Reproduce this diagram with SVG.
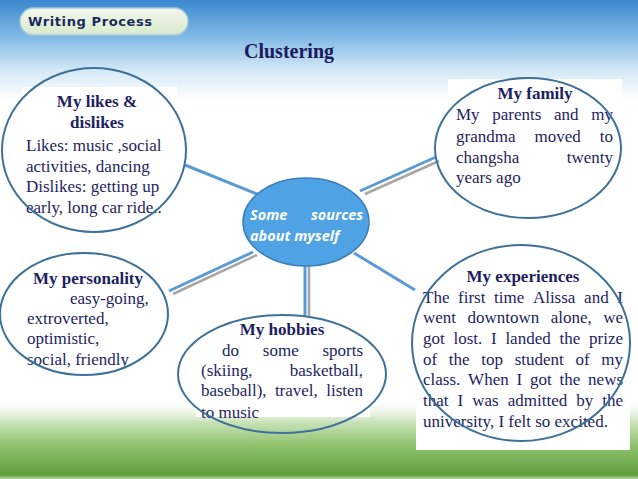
<svg xmlns="http://www.w3.org/2000/svg" width="638" height="479" viewBox="0 0 638 479">
<defs>
<linearGradient id="sky" x1="0" y1="0" x2="0" y2="1">
<stop offset="0" stop-color="#3a88cf"/>
<stop offset="0.35" stop-color="#7db6e4"/>
<stop offset="0.7" stop-color="#d4e8f6"/>
<stop offset="1" stop-color="#ffffff"/>
</linearGradient>
<linearGradient id="grass" x1="0" y1="0" x2="0" y2="1">
<stop offset="0" stop-color="#ffffff" stop-opacity="0"/>
<stop offset="0.3" stop-color="#c9e2b8"/>
<stop offset="0.6" stop-color="#8cc06a"/>
<stop offset="0.95" stop-color="#5e9f3f"/>
<stop offset="1" stop-color="#b9d6a6"/>
</linearGradient>
<linearGradient id="pill" x1="0" y1="0" x2="0" y2="1">
<stop offset="0" stop-color="#f3f8ee"/>
<stop offset="1" stop-color="#d8eacb"/>
</linearGradient>
<style>
.t{font-family:"Liberation Serif","Times New Roman",serif;font-size:17px;fill:#1e1e62}
.h{font-family:"Liberation Serif","Times New Roman",serif;font-size:17px;font-weight:bold;fill:#1e1e62}
.ring{fill:none;stroke:#3d7199;stroke-width:2}
.box{fill:#ffffff}
.cb{stroke:#5b9bd5;stroke-width:3;fill:none}
.cg{stroke:#a6a6a6;stroke-width:2.5;fill:none}
.ct{font-family:"Open Sans",sans-serif;font-size:14.5px;font-style:italic;font-weight:bold;fill:#ffffff}
</style>
</defs>
<rect x="0" y="0" width="638" height="479" fill="#ffffff"/>
<rect x="0" y="0" width="638" height="100" fill="url(#sky)"/>
<rect x="0" y="398" width="638" height="81" fill="url(#grass)"/>
<g id="header">
<rect x="20" y="8" width="168" height="27" rx="13.5" fill="url(#pill)" stroke="#a9c9de" stroke-width="1.5"/>
<text x="28" y="26" style="font-family:'DejaVu Sans',sans-serif;font-size:13px;font-weight:bold;letter-spacing:0.6px;fill:#1b2a5c">Writing Process</text>
</g>
<g id="title">
<text x="289" y="58" text-anchor="middle" style="font-family:'Liberation Serif',serif;font-size:20px;font-weight:bold;fill:#1a1a5e">Clustering</text>
</g>
<g id="connectors">
<line class="cb" x1="185" y1="165" x2="257" y2="194"/>
<line class="cg" x1="365" y1="194" x2="439" y2="161"/>
<line class="cb" x1="360" y1="191" x2="436" y2="157"/>
<line class="cg" x1="173" y1="294" x2="257" y2="255"/>
<line class="cb" x1="169" y1="291" x2="253" y2="252"/>
<line class="cg" x1="309" y1="266" x2="309" y2="316"/>
<line class="cb" x1="305" y1="266" x2="305" y2="316"/>
<line class="cb" x1="354" y1="253" x2="415" y2="290"/>
</g>
<g id="center">
<ellipse cx="306" cy="222" rx="63" ry="44" fill="#4fa2e4" stroke="#3a7db8" stroke-width="1.5"/>
<text class="ct" y="220"><tspan x="250">Some</tspan><tspan x="311">sources</tspan></text>
<text class="ct" x="250" y="241">about myself</text>
</g>
<g id="likes">
<rect class="box" x="22" y="87" width="155" height="133"/>
<text class="h" x="97" y="107" text-anchor="middle">My likes &amp;</text>
<text class="h" x="97" y="128" text-anchor="middle">dislikes</text>
<text class="t" x="26" y="151">Likes: music ,social</text>
<text class="t" x="26" y="172">activities, dancing</text>
<text class="t" x="26" y="192">Dislikes: getting up</text>
<text class="t" x="26" y="213">early, long car ride..</text>
<ellipse class="ring" cx="94" cy="150" rx="92" ry="82"/>
</g>
<g id="family">
<rect class="box" x="448" y="79" width="174" height="122"/>
<text class="h" x="535" y="99" text-anchor="middle">My family</text>
<text class="t" y="120"><tspan x="456">My</tspan><tspan x="492.3">parents</tspan><tspan x="554">and</tspan><tspan x="591.3">my</tspan></text>
<text class="t" y="142"><tspan x="456">grandma</tspan><tspan x="534.5">moved</tspan><tspan x="599.8">to</tspan></text>
<text class="t" y="163"><tspan x="456">changsha</tspan><tspan x="566.7">twenty</tspan></text>
<text class="t" x="456" y="183">years ago</text>
<ellipse class="ring" cx="528" cy="148" rx="93" ry="70"/>
</g>
<g id="personality">
<text class="h" x="33" y="284">My personality</text>
<text class="t" x="70" y="304">easy-going,</text>
<text class="t" x="27" y="324">extroverted,</text>
<text class="t" x="27" y="344">optimistic,</text>
<text class="t" x="27" y="365">social, friendly</text>
<ellipse class="ring" cx="84" cy="314" rx="84" ry="61"/>
</g>
<g id="hobbies">
<rect class="box" x="196" y="320" width="174" height="97"/>
<text class="h" x="282" y="335" text-anchor="middle">My hobbies</text>
<text class="t" y="356"><tspan x="222">do</tspan><tspan x="262.8">some</tspan><tspan x="322.4">sports</tspan></text>
<text class="t" y="376"><tspan x="201">(skiing,</tspan><tspan x="289.8">basketball,</tspan></text>
<text class="t" y="396"><tspan x="201">baseball),</tspan><tspan x="274.9">travel,</tspan><tspan x="326.2">listen</tspan></text>
<text class="t" x="201" y="418">to music</text>
<ellipse class="ring" cx="282" cy="374" rx="104" ry="59"/>
</g>
<g id="experiences">
<rect class="box" x="416" y="262" width="214" height="188"/>
<text class="h" x="523" y="282" text-anchor="middle">My experiences</text>
<text class="t" y="303"><tspan x="423">The</tspan><tspan x="458">first</tspan><tspan x="494.1">time</tspan><tspan x="532.9">Alissa</tspan><tspan x="584.1">and</tspan><tspan x="617.2">I</tspan></text>
<text class="t" y="323"><tspan x="423">went</tspan><tspan x="467.5">downtown</tspan><tspan x="550.7">alone,</tspan><tspan x="603.2">we</tspan></text>
<text class="t" y="344"><tspan x="423">got</tspan><tspan x="453.5">lost.</tspan><tspan x="491">I</tspan><tspan x="505.4">landed</tspan><tspan x="559.5">the</tspan><tspan x="589">prize</tspan></text>
<text class="t" y="365"><tspan x="423">of</tspan><tspan x="448.8">the</tspan><tspan x="481.3">top</tspan><tspan x="514.7">student</tspan><tspan x="575.5">of</tspan><tspan x="601.3">my</tspan></text>
<text class="t" y="385"><tspan x="423">class.</tspan><tspan x="468.1">When</tspan><tspan x="516.5">I</tspan><tspan x="530">got</tspan><tspan x="559.5">the</tspan><tspan x="588.1">news</tspan></text>
<text class="t" y="406"><tspan x="423">that</tspan><tspan x="457.5">I</tspan><tspan x="472.2">was</tspan><tspan x="507.7">admitted</tspan><tspan x="576.2">by</tspan><tspan x="602.2">the</tspan></text>
<text class="t" x="423" y="427">university, I felt so excited.</text>
<ellipse class="ring" cx="521" cy="343" rx="109" ry="98"/>
</g>
</svg>
